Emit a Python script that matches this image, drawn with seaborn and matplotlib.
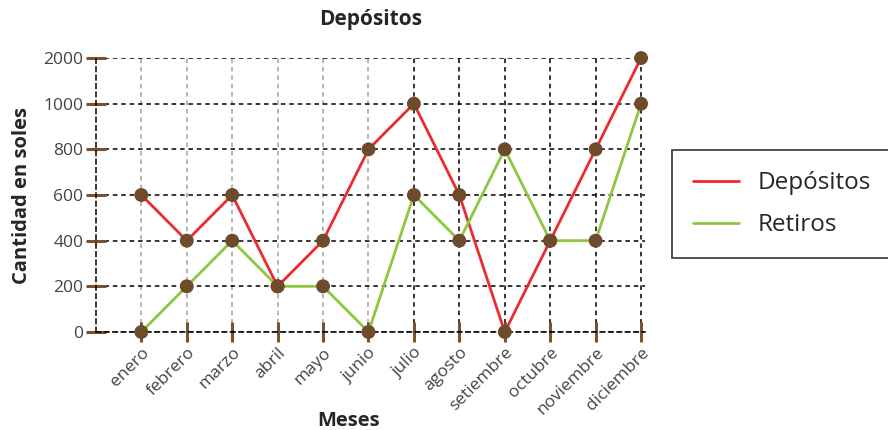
import numpy as np
import pandas as pd
import matplotlib
matplotlib.use("Agg")
import matplotlib.pyplot as plt
import seaborn as sns

meses = ["enero", "febrero", "marzo", "abril", "mayo", "junio", "julio",
         "agosto", "setiembre", "octubre", "noviembre", "diciembre"]
depositos = [600, 400, 600, 200, 400, 800, 1000, 600, 0, 400, 800, 2000]
retiros = [0, 200, 400, 200, 200, 0, 600, 400, 800, 400, 400, 1000]
y_ticks = [0, 200, 400, 600, 800, 1000, 2000]

sns.set_theme(style="white")
plt.rcParams["font.family"] = ["Open Sans", "DejaVu Sans"]

df = pd.DataFrame({
    "mes": meses * 2,
    "cantidad": depositos + retiros,
    "serie": ["Depósitos"] * len(meses) + ["Retiros"] * len(meses),
})

fig = plt.figure(figsize=(8.88, 4.3), dpi=100)
ax = fig.add_axes([0.108, 0.228, 0.618, 0.637])

# evenly spaced ordinal value axis: each tick value gets one step
tick_pos = np.arange(len(y_ticks), dtype=float)
fwd = lambda v: np.interp(v, y_ticks, tick_pos)
inv = lambda p: np.interp(p, tick_pos, y_ticks)
ax.set_yscale("function", functions=(fwd, inv))

palette = {"Depósitos": "#ee2a2e", "Retiros": "#8dc63f"}
sns.lineplot(data=df, x="mes", y="cantidad", hue="serie", palette=palette,
             linewidth=2, ax=ax, sort=False, zorder=3)
sns.scatterplot(data=df, x="mes", y="cantidad", color="#6e4b2a", s=100,
                edgecolor="none", ax=ax, zorder=4, clip_on=False, legend=False)

ax.set_ylim(0, 2000)
ax.set_xlim(-1, len(meses) - 1 + 0.08)
ax.set_yticks(y_ticks)
ax.set_yticklabels([str(t) for t in y_ticks])
ax.set_xticks(range(len(meses)))
ax.set_xticklabels(meses, rotation=45, ha="right", rotation_mode="anchor")

ax.tick_params(axis="both", bottom=True, left=True, colors="#7a5230",
               width=2.2, length=14, direction="inout", labelsize=12.5,
               labelcolor="#444444")
ax.tick_params(axis="y", pad=2)
ax.tick_params(axis="x", pad=2)

ax.grid(True, axis="y", color="black", linestyle=(0, (3, 2.5)), linewidth=1.1)
ax.grid(True, axis="x", color="#a0a0a0", linestyle=(0, (3, 2.5)), linewidth=1.1)
for i, gl in enumerate(ax.get_xgridlines()):
    if i >= 6:
        gl.set_color("black")

for side in ["top", "right"]:
    ax.spines[side].set_visible(False)
for side in ["left", "bottom"]:
    ax.spines[side].set_color("black")
    ax.spines[side].set_linestyle((0, (3, 2.5)))
    ax.spines[side].set_linewidth(1.1)

ax.set_title("Depósitos", fontsize=15, fontweight="bold", pad=24)
ax.set_ylabel("Cantidad en soles", fontsize=14.5, fontweight="bold", labelpad=8)
ax.set_xlabel("Meses", fontsize=14.5, fontweight="bold")
ax.xaxis.set_label_coords(0.461, -0.29)

handles, labels = ax.get_legend_handles_labels()
ax.legend(handles, labels, loc="center left", bbox_to_anchor=(0.757, 0.525),
          bbox_transform=fig.transFigure, borderaxespad=0, fontsize=17.5,
          frameon=True, fancybox=False, edgecolor="black", handlelength=1.9,
          borderpad=0.85, labelspacing=0.75, handletextpad=0.75)
leg = ax.get_legend()
leg.get_frame().set_linewidth(1.2)

fig.savefig("out.png", dpi=100)
